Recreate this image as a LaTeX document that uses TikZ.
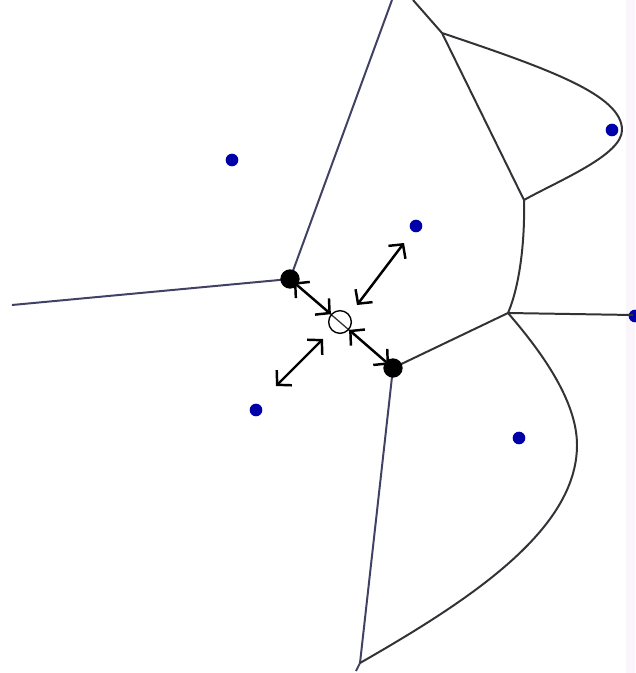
\documentclass[tikz,border=0pt]{standalone}
\usepackage{xcolor}
\usepackage{tikz}
\usetikzlibrary{arrows.meta,positioning}
\definecolor{siteblue}{RGB}{0,0,170}
\definecolor{edgegray}{RGB}{50,50,55}
\definecolor{edgeblue}{RGB}{65,65,100}
\definecolor{stripcol}{RGB}{249,245,250}

\begin{document}
\begin{tikzpicture}[x=0.03cm, y=-0.03cm,
    site/.style={circle, fill=siteblue, inner sep=0pt, minimum size=0.38cm},
    vertex/.style={circle, fill=black, inner sep=0pt, minimum size=0.58cm},
    probe/.style={circle, draw=black, line width=1.2pt, inner sep=0pt, minimum size=0.68cm},
    edge/.style={edgegray, line width=1.7pt},
    edgeb/.style={edgeblue, line width=1.7pt},
    arr/.style={{Straight Barb[length=3mm, width=6.4mm]}-{Straight Barb[length=3mm, width=6.4mm]}, line width=2.1pt, black}
]
    \useasboundingbox (0,0) rectangle (635,673);
    \fill[stripcol] (626,0) rectangle (635,673);
    % sites
    \node[site] (s1) at (232,160) {};
    \node[site] (s2) at (416,226) {};
    \node[site] (s3) at (612,130) {};
    \node[site] (s4) at (256,410) {};
    \node[site] (s5) at (519,438) {};
    \node[site] (s6) at (635,316) {};
    % Voronoi vertices and free ends
    \coordinate (vA) at (290,279);
    \coordinate (vB) at (393,368);
    \coordinate (vT) at (442,33);
    \coordinate (vM) at (524,200);
    \coordinate (vR) at (508,313);
    \coordinate (vS) at (360,663);
    \coordinate (eL) at (12,305);
    \coordinate (eT) at (392,0);
    \coordinate (eU) at (413,0);
    \coordinate (eS) at (356,671);
    \coordinate (eR) at (633,315);
    % edges
    \draw[edgeb] (eL) -- (vA);
    \draw[edgeb] (vA) -- (eT);
    \draw[edgeb] (vB) -- (vS) -- (eS);
    \draw[edgegray, line width=1.1pt] (vA) -- (vB);
    \draw[edge] (eU) -- (vT) -- (vM);
    \draw[edge] (vT) .. controls (549,69) and (622,95) .. (622,130)
        .. controls (622,155) and (560,180) .. (vM);
    \draw[edge] (vM) .. controls (525,240) and (520,285) .. (vR);
    \draw[edge] (vR) -- (eR);
    \draw[edge] (vR) -- (vB);
    \draw[edge] (vR) .. controls (540,350) and (577,400) .. (577,445)
        .. controls (577,530) and (470,600) .. (vS);
    % moving point
    \node[vertex] (A) at (vA) {};
    \node[vertex] (B) at (vB) {};
    \node[probe] (P) at (340,322) {};
    \coordinate (q1) at (357,305);
    \coordinate (q2) at (404,243);
    \coordinate (q3) at (323,339);
    \coordinate (q4) at (276,386);
    \draw[arr, shorten <=-4pt] (A) -- (P);
    \draw[arr, shorten >=-4pt] (P) -- (B);
    \draw[arr] (q1) -- (q2);
    \draw[arr] (q3) -- (q4);
\end{tikzpicture}
\end{document}
